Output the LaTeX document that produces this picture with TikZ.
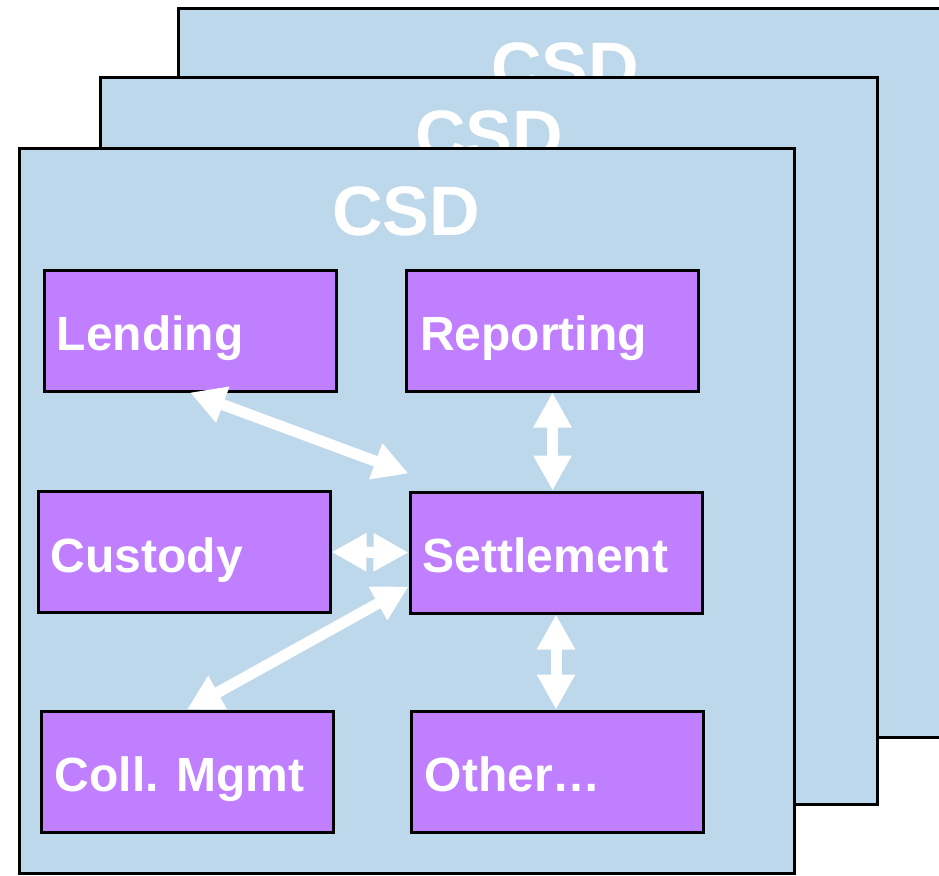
\documentclass[tikz,border=0pt]{standalone}
\usepackage{fontspec}
\setmainfont{Liberation Sans}
\usetikzlibrary{arrows.meta}
\definecolor{panelblue}{HTML}{BDD8EA}
\definecolor{boxpurple}{HTML}{C07FFF}
\tikzset{
  panel/.style={draw=black, line width=3pt, fill=panelblue},
  csd/.style={text=white, font=\fontsize{70}{80}\selectfont\bfseries, anchor=base, inner sep=0pt},
  modbox/.style={draw=black, line width=3pt, fill=boxpurple, minimum width=292pt, minimum height=121pt, inner sep=0pt},
  modlbl/.style={text=white, font=\fontsize{48}{56}\selectfont\bfseries, anchor=base west, inner sep=0pt},
  dbl/.style={draw=white, line width=11pt,
    arrows={Triangle[length=35pt 0 0,width=36pt 0 0]-Triangle[length=35pt 0 0,width=36pt 0 0]}}
}
\begin{document}
\begin{tikzpicture}[x=1pt,y=-1pt]
\useasboundingbox (0,0) rectangle (939,875);
\clip (0,0) rectangle (939,875);
% back panel
\draw[panel] (178,9) rectangle (970,737);
\node[csd] (csd3) at (565,92) {CSD};
% middle panel
\draw[panel] (100,77) rectangle (877,804);
\node[csd] (csd2) at (489,159) {CSD};
% front panel
\draw[panel] (19,148) rectangle (794,873);
\node[csd] (csd1) at (406,235) {CSD};
% module boxes
\node[modbox] (lend) at (190,330.5) {};
\node[modbox] (rep) at (552.5,330.5) {};
\node[modbox] (cust) at (184,552) {};
\node[modbox] (settle) at (556,552.5) {};
\node[modbox] (coll) at (187,771.5) {};
\node[modbox] (other) at (557,771.5) {};
% labels
\node[modlbl] (lendl) at ([xshift=14pt,yshift=-19.5pt]lend.west) {Lending};
\node[modlbl] (repl) at ([xshift=15pt,yshift=-19.5pt]rep.west) {Reporting};
\node[modlbl] (custl) at ([xshift=14pt,yshift=-20pt]cust.west) {Custody};
\node[modlbl] (settlel) at ([xshift=14pt,yshift=-19.5pt]settle.west) {Settlement};
\node[modlbl] (colll) at ([xshift=15pt,yshift=-19.5pt]coll.west) {Coll. Mgmt};
\node[modlbl] (otherl) at ([xshift=15pt,yshift=-19.5pt]other.west) {Other…};
% connectors
\draw[dbl] (lend.south) -- ([yshift=17pt]settle.north west);
\draw[dbl] (rep.south) -- (rep.south |- settle.north);
\draw[dbl] (cust.east) -- (settle.west);
\draw[dbl] ([yshift=-34pt]settle.west) -- (coll.north);
\draw[dbl] (settle.south) -- (settle.south |- other.north);
\end{tikzpicture}
\end{document}
